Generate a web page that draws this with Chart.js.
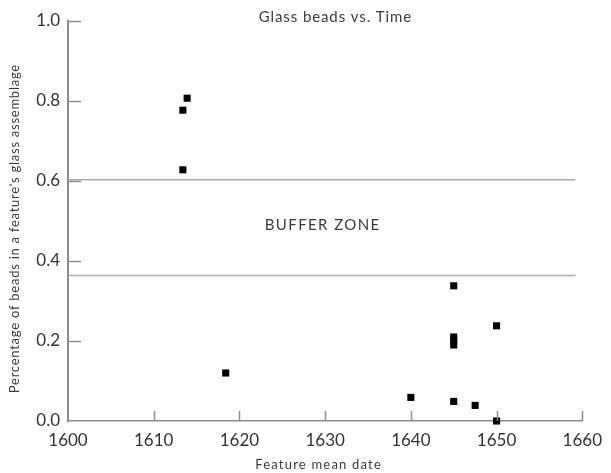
<!DOCTYPE html>
<html>
<head>
<meta charset="utf-8">
<script src="https://cdn.jsdelivr.net/npm/chart.js@4/dist/chart.umd.min.js"></script>
<style>
  html, body { margin: 0; padding: 0; background: #fff; }
  #wrap { width: 611px; height: 473px; }
</style>
</head>
<body>
<div id="wrap"><canvas id="beadChart" width="611" height="473"></canvas></div>
<script>
// feature mean date vs share of beads in the glass assemblage
var beadDates  = [1613.9, 1613.4, 1613.4, 1618.4, 1640, 1645, 1645, 1645, 1645, 1645, 1647.5, 1650, 1650];
var beadShares = [0.807, 0.777, 0.628, 0.12, 0.059, 0.338, 0.21, 0.20, 0.19, 0.049, 0.039, 0.238, 0.0];

// buffer zone limits
var bufferLimits = [0.603, 0.364];
var bufferSpan   = [1600, 1659.2];

var xTicks = [1600, 1610, 1620, 1630, 1640, 1650, 1660];
var yTicks = [0.0, 0.2, 0.4, 0.6, 0.8, 1.0];

var FONT = 'Lato, "Open Sans", sans-serif';
var AXIS = '#8c8c8c';

var points = [];
for (var i = 0; i < beadDates.length; i++) {
  points.push({ x: beadDates[i], y: beadShares[i] });
}

function bufferLine(v) {
  return {
    type: 'line',
    data: [{ x: bufferSpan[0], y: v }, { x: bufferSpan[1], y: v }],
    borderColor: '#a8a8a8',
    borderWidth: 1.5,
    pointRadius: 0,
    fill: false
  };
}

function spaced(ctx, txt, x, y, sp) {
  // letter-spaced text centred on x
  ctx.letterSpacing = sp + 'px';
  var w = ctx.measureText(txt).width - sp;
  ctx.textAlign = 'left';
  ctx.fillText(txt, x - w / 2, y);
  ctx.letterSpacing = '0px';
}

//- inward tick marks + free text -
var extras = {
  id: 'extras',
  afterDraw: function (chart) {
    var ctx = chart.ctx;
    var xs = chart.scales.x, ys = chart.scales.y;
    var area = chart.chartArea;
    ctx.save();
    ctx.strokeStyle = AXIS;
    ctx.lineWidth = 1.5;
    yTicks.forEach(function (t) {
      if (t === 0) return;
      var py = Math.round(ys.getPixelForValue(t)) + 0.5;
      ctx.beginPath(); ctx.moveTo(area.left, py); ctx.lineTo(area.left + 13, py); ctx.stroke();
    });
    xTicks.forEach(function (t) {
      if (t === 1600) return;
      var px = Math.round(xs.getPixelForValue(t)) + 0.5;
      ctx.beginPath(); ctx.moveTo(px, area.bottom); ctx.lineTo(px, area.bottom - 10); ctx.stroke();
    });

    ctx.fillStyle = '#3a3a3a';
    ctx.textBaseline = 'middle';
    ctx.font = '15px ' + FONT;
    spaced(ctx, 'Glass beads vs. Time', 335, 17, 0.9);
    spaced(ctx, 'BUFFER ZONE', 322, 225, 1.4);
    ctx.font = '13px ' + FONT;
    spaced(ctx, 'Feature mean date', 318, 465, 1.2);
    ctx.translate(15, 229);
    ctx.rotate(-Math.PI / 2);
    spaced(ctx, "Percentage of beads in a feature's glass assemblage", 0, 0, 0.75);
    ctx.restore();
  }
};

new Chart(document.getElementById('beadChart').getContext('2d'), {
  type: 'scatter',
  data: {
    datasets: [
      {
        data: points,
        pointStyle: 'rect',
        pointRadius: 5,
        pointHoverRadius: 5,
        backgroundColor: '#000',
        borderColor: '#000',
        borderWidth: 0,
        clip: false
      },
      bufferLine(bufferLimits[0]),
      bufferLine(bufferLimits[1])
    ]
  },
  options: {
    responsive: false,
    animation: false,
    layout: { padding: { left: 0, top: 21, right: 21, bottom: 0 } },
    plugins: { legend: { display: false }, tooltip: { enabled: false }, title: { display: false } },
    scales: {
      x: {
        type: 'linear',
        min: 1600, max: 1660,
        afterBuildTicks: function (s) { s.ticks = xTicks.map(function (v) { return { value: v }; }); },
        afterFit: function (s) { s.height = 52; },
        grid: { display: false, drawTicks: false },
        border: { display: true, color: AXIS, width: 1.5 },
        ticks: {
          padding: 9, color: '#333', font: { family: FONT, size: 17 }, maxRotation: 0,
          callback: function (v) { return String(v); }
        }
      },
      y: {
        type: 'linear',
        min: 0, max: 1,
        afterBuildTicks: function (s) { s.ticks = yTicks.map(function (v) { return { value: v }; }); },
        afterFit: function (s) { s.width = 68; },
        grid: { display: false, drawTicks: false },
        border: { display: true, color: AXIS, width: 2 },
        ticks: {
          padding: 8, color: '#333', font: { family: FONT, size: 17 },
          callback: function (v) { return Number(v).toFixed(1); }
        }
      }
    }
  },
  plugins: [extras]
});
</script>
</body>
</html>
